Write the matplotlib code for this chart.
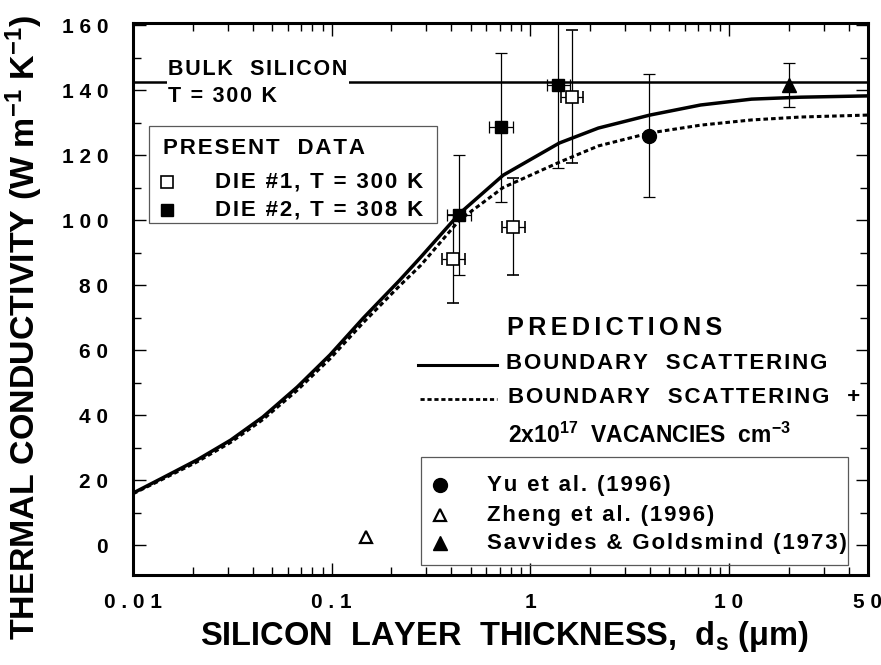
import matplotlib.pyplot as plt
from matplotlib.patches import Rectangle
from matplotlib.ticker import FuncFormatter, LogLocator, MultipleLocator, NullFormatter

# model predictions
curve_x = [0.01, 0.014, 0.021, 0.031, 0.045, 0.067, 0.098, 0.144, 0.22, 0.28,
           0.44, 0.73, 1.4, 2.2, 4.0, 7.2, 13, 23, 50]
boundary_k = [16, 20.6, 26.2, 32.3, 39.4, 48.6, 58.5, 69.8, 81.5, 88.5,
              102, 113.8, 123.7, 128.3, 132.3, 135.4, 137.2, 137.8, 138.2]
vacancy_k = [15.8, 20.2, 25.6, 31.6, 38.6, 47.6, 57.3, 68.4, 79.8, 86,
             100, 110, 117.8, 122.8, 126.8, 129.2, 130.8, 131.7, 132.3]

bulk_k = 142.5

# present data
die1_x = [0.41, 0.82, 1.62]
die1_k = [88, 98, 138]
die1_kerr = [13.5, 15, 20.5]
die1_xerr = [[0.05, 0.10, 0.19], [0.06, 0.12, 0.23]]

die2_x = [0.436, 0.71, 1.38]
die2_k = [101.5, 128.5, 141.5]
die2_kerr = [18.5, 23, 25.5]
die2_xerr = [[0.055, 0.09, 0.17], [0.065, 0.105, 0.2]]

# literature data
yu_x, yu_k, yu_kerr = [3.96], [126], [19]
zheng_x, zheng_k = [0.149], [2.5]
savvides_x, savvides_k, savvides_kerr = [20.1], [141.5], [6.8]

x_ticks = [0.01, 0.1, 1, 10, 50]
x_ticklabels = ["0 . 0 1", "0 . 1", "1", "1 0", "5 0"]

plt.rcParams["font.family"] = ["Liberation Sans", "DejaVu Sans"]
plt.rcParams["font.weight"] = "bold"
plt.rcParams["mathtext.fontset"] = "custom"
plt.rcParams["mathtext.rm"] = "Liberation Sans:bold"
plt.rcParams["mathtext.it"] = "Liberation Sans:bold"
plt.rcParams["mathtext.bf"] = "Liberation Sans:bold"


def track(s, sep="\u200a"):
    # wide letter spacing like the original typesetting
    return sep.join(s)


fig = plt.figure(figsize=(8.81, 6.65), dpi=100)
ax = fig.add_axes([0.151, 0.1353, 0.834, 0.830])

ax.plot(curve_x, boundary_k, color="black", lw=2.5, zorder=2)
ax.plot(curve_x, vacancy_k, color="black", lw=2.2, dashes=(1.5, 1.0), zorder=2)
ax.axhline(bulk_k, color="black", lw=1.8, zorder=1)

eb = dict(ecolor="black", elinewidth=0.9, capsize=4, capthick=0.9, ls="none", zorder=4)
ax.errorbar(die1_x, die1_k, yerr=die1_kerr, xerr=die1_xerr, fmt="s", ms=9,
            mfc="white", mec="black", mew=1.2, **eb)
ax.errorbar(die2_x, die2_k, yerr=die2_kerr, xerr=die2_xerr, fmt="s", ms=9,
            mfc="black", mec="black", **eb)
ax.errorbar(yu_x, yu_k, yerr=yu_kerr, fmt="o", ms=10, mfc="black", mec="black", **eb)
ax.errorbar(savvides_x, savvides_k, yerr=savvides_kerr, fmt="^", ms=10,
            mfc="black", mec="black", **eb)
ax.plot(zheng_x, zheng_k, "^", ms=9, mfc="white", mec="black", mew=1.6, zorder=4)

ax.set_xscale("log")
ax.set_xlim(0.01, 50)
ax.set_ylim(-9.2, 160.6)
ax.set_xticks(x_ticks)
ax.set_xticklabels(x_ticklabels)
ax.xaxis.set_minor_locator(LogLocator(base=10, subs=range(2, 10)))
ax.xaxis.set_minor_formatter(NullFormatter())
ax.yaxis.set_major_locator(MultipleLocator(20))
ax.yaxis.set_minor_locator(MultipleLocator(10))
ax.yaxis.set_major_formatter(FuncFormatter(lambda v, p: " ".join(f"{v:.0f}")))

ax.tick_params(which="both", direction="in", top=True, right=True, width=1.0,
               labelsize=15)
ax.tick_params(which="major", length=9)
ax.tick_params(which="minor", length=5.5)
ax.tick_params(axis="y", pad=18)
ax.tick_params(axis="x", pad=13)
for s in ax.spines.values():
    s.set_linewidth(2.2)

fs = 16
ax.text(0.0476, 0.891, track("BULK  SILICON") + "\n" + track("T = 300 K"),
        transform=ax.transAxes, fontsize=15.5, va="center", ha="left",
        linespacing=1.35, bbox=dict(facecolor="white", edgecolor="none", pad=1))

# present data key
ax.add_patch(Rectangle((0.0218, 0.6377), 0.392, 0.176, transform=ax.transAxes,
                       fill=False, edgecolor="0.35", lw=0.9, zorder=5))
ax.text(0.041, 0.772, track("PRESENT  DATA"), transform=ax.transAxes,
        fontsize=fs, va="center")
ax.plot([0.046], [0.712], "s", ms=8, mfc="white", mec="black", mew=1.2,
        transform=ax.transAxes, clip_on=False)
ax.plot([0.046], [0.661], "s", ms=8, mfc="black", mec="black",
        transform=ax.transAxes, clip_on=False)
ax.text(0.1116, 0.712, track("DIE #1, T = 300 K"), transform=ax.transAxes,
        fontsize=fs, va="center")
ax.text(0.1116, 0.661, track("DIE #2, T = 308 K"), transform=ax.transAxes,
        fontsize=fs, va="center")

# predictions key
ax.text(0.5088, 0.4475, track("PREDICTIONS", "\u200a\u200a"), transform=ax.transAxes,
        fontsize=18.2, va="center")
ax.plot([0.388, 0.496], [0.381, 0.381], color="black", lw=2.2, transform=ax.transAxes)
ax.plot([0.391, 0.496], [0.3188, 0.3188], color="black", lw=2.0, dashes=(1.5, 1.0),
        transform=ax.transAxes)
ax.text(0.507, 0.384, track("BOUNDARY  SCATTERING"), transform=ax.transAxes,
        fontsize=fs, va="center")
ax.text(0.510, 0.3225, track("BOUNDARY  SCATTERING  +"), transform=ax.transAxes,
        fontsize=fs, va="center")
ax.text(0.510, 0.2536, r"2x10$^{17}$  VACANCIES  cm$^{-3}$", transform=ax.transAxes,
        fontsize=16.5, va="center")

# literature key
ax.add_patch(Rectangle((0.392, 0.018), 0.581, 0.196, transform=ax.transAxes,
                       fill=False, edgecolor="0.35", lw=0.9, zorder=5))
ax.plot([0.4177], [0.163], "o", ms=10, mfc="black", mec="black",
        transform=ax.transAxes)
ax.plot([0.4177], [0.1087], "^", ms=9, mfc="white", mec="black", mew=1.6,
        transform=ax.transAxes)
ax.plot([0.4177], [0.058], "^", ms=10, mfc="black", mec="black",
        transform=ax.transAxes)
ax.text(0.4816, 0.163, track("Yu et al. (1996)"), transform=ax.transAxes,
        fontsize=fs, va="center")
ax.text(0.4816, 0.1087, track("Zheng et al. (1996)"), transform=ax.transAxes,
        fontsize=fs, va="center")
ax.text(0.4816, 0.058, track("Savvides & Goldsmind (1973)"), transform=ax.transAxes,
        fontsize=fs, va="center")

fig.text(0.027, 0.508, r"THERMAL CONDUCTIVITY (W m$^{-1}$ K$^{-1}$)", rotation=90,
         fontsize=24.5, ha="center", va="center")
fig.text(0.573, 0.0436, r"SILICON  LAYER  THICKNESS,  d$_{s}$ ($\mu$m)",
         fontsize=23.5, ha="center", va="center")

fig.savefig("out.png", dpi=100)
